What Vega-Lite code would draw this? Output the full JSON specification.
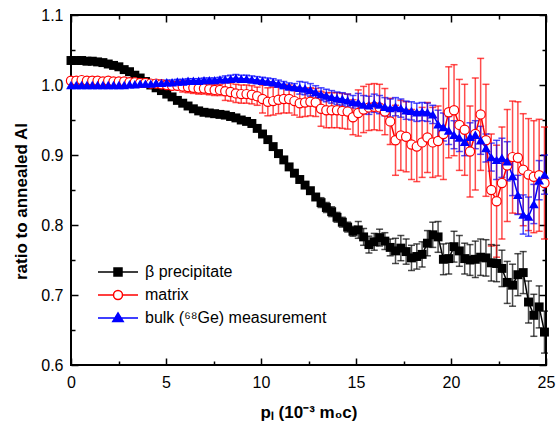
{
"$schema":"https://vega.github.io/schema/vega-lite/v6.json",
"width":475,"height":350,
"autosize":{"type":"none"},
"padding":{"left":71,"top":15,"right":11,"bottom":62},
"config":{"view":{"stroke":"#000","strokeWidth":2},"font":"Liberation Sans",
"legend":{"padding":0,"labelFont":"Liberation Sans","labelFontSize":16,"labelColor":"#000","labelLimit":0,"symbolSize":400,"symbolStrokeWidth":1.5,"labelOffset":16,"rowPadding":4,"symbolOpacity":1}},
"data":{"values":[
{"s":"b","x":0,"y":1.035,"e":0.002},{"s":"b","x":0.28,"y":1.035,"e":0.002},{"s":"b","x":0.56,"y":1.035,"e":0.002},{"s":"b","x":0.84,"y":1.034,"e":0.002},{"s":"b","x":1.12,"y":1.034,"e":0.002},{"s":"b","x":1.4,"y":1.033,"e":0.002},{"s":"b","x":1.68,"y":1.032,"e":0.002},{"s":"b","x":1.96,"y":1.03,"e":0.002},{"s":"b","x":2.24,"y":1.028,"e":0.002},{"s":"b","x":2.52,"y":1.026,"e":0.002},
{"s":"b","x":2.8,"y":1.022,"e":0.002},{"s":"b","x":3.08,"y":1.019,"e":0.002},{"s":"b","x":3.36,"y":1.014,"e":0.002},{"s":"b","x":3.64,"y":1.01,"e":0.002},{"s":"b","x":3.92,"y":1.005,"e":0.002},{"s":"b","x":4.2,"y":1.0,"e":0.002},{"s":"b","x":4.48,"y":0.996,"e":0.002},{"s":"b","x":4.76,"y":0.992,"e":0.002},{"s":"b","x":5.04,"y":0.987,"e":0.002},{"s":"b","x":5.32,"y":0.983,"e":0.002},
{"s":"b","x":5.6,"y":0.978,"e":0.002},{"s":"b","x":5.88,"y":0.974,"e":0.002},{"s":"b","x":6.16,"y":0.97,"e":0.002},{"s":"b","x":6.44,"y":0.966,"e":0.002},{"s":"b","x":6.72,"y":0.963,"e":0.002},{"s":"b","x":7,"y":0.961,"e":0.002},{"s":"b","x":7.28,"y":0.96,"e":0.002},{"s":"b","x":7.56,"y":0.959,"e":0.002},{"s":"b","x":7.84,"y":0.958,"e":0.002},{"s":"b","x":8.12,"y":0.957,"e":0.002},
{"s":"b","x":8.4,"y":0.955,"e":0.002},{"s":"b","x":8.68,"y":0.953,"e":0.002},{"s":"b","x":8.96,"y":0.95,"e":0.002},{"s":"b","x":9.24,"y":0.948,"e":0.002},{"s":"b","x":9.52,"y":0.945,"e":0.002},{"s":"b","x":9.8,"y":0.938,"e":0.002},{"s":"b","x":10.08,"y":0.93,"e":0.004},{"s":"b","x":10.36,"y":0.922,"e":0.004},{"s":"b","x":10.64,"y":0.912,"e":0.004},{"s":"b","x":10.92,"y":0.902,"e":0.004},
{"s":"b","x":11.2,"y":0.893,"e":0.004},{"s":"b","x":11.48,"y":0.883,"e":0.004},{"s":"b","x":11.76,"y":0.874,"e":0.004},{"s":"b","x":12.04,"y":0.865,"e":0.004},{"s":"b","x":12.32,"y":0.857,"e":0.004},{"s":"b","x":12.6,"y":0.849,"e":0.004},{"s":"b","x":12.88,"y":0.84,"e":0.004},{"s":"b","x":13.16,"y":0.832,"e":0.007},{"s":"b","x":13.44,"y":0.825,"e":0.007},{"s":"b","x":13.72,"y":0.819,"e":0.007},
{"s":"b","x":14,"y":0.811,"e":0.007},{"s":"b","x":14.28,"y":0.804,"e":0.007},{"s":"b","x":14.56,"y":0.797,"e":0.007},{"s":"b","x":14.84,"y":0.791,"e":0.007},{"s":"b","x":15.12,"y":0.793,"e":0.012},{"s":"b","x":15.4,"y":0.783,"e":0.012},{"s":"b","x":15.68,"y":0.772,"e":0.012},{"s":"b","x":15.96,"y":0.776,"e":0.012},{"s":"b","x":16.24,"y":0.782,"e":0.012},{"s":"b","x":16.52,"y":0.777,"e":0.012},
{"s":"b","x":16.8,"y":0.768,"e":0.012},{"s":"b","x":17.08,"y":0.763,"e":0.018},{"s":"b","x":17.36,"y":0.767,"e":0.018},{"s":"b","x":17.64,"y":0.762,"e":0.018},{"s":"b","x":17.92,"y":0.753,"e":0.018},{"s":"b","x":18.2,"y":0.755,"e":0.018},{"s":"b","x":18.48,"y":0.758,"e":0.018},{"s":"b","x":18.76,"y":0.774,"e":0.018},{"s":"b","x":19.04,"y":0.786,"e":0.018},{"s":"b","x":19.32,"y":0.783,"e":0.022},
{"s":"b","x":19.6,"y":0.751,"e":0.022},{"s":"b","x":19.88,"y":0.752,"e":0.022},{"s":"b","x":20.16,"y":0.769,"e":0.022},{"s":"b","x":20.44,"y":0.763,"e":0.022},{"s":"b","x":20.72,"y":0.752,"e":0.022},{"s":"b","x":21,"y":0.75,"e":0.022},{"s":"b","x":21.28,"y":0.751,"e":0.026},{"s":"b","x":21.56,"y":0.754,"e":0.026},{"s":"b","x":21.84,"y":0.753,"e":0.026},{"s":"b","x":22.12,"y":0.746,"e":0.026},
{"s":"b","x":22.4,"y":0.745,"e":0.026},{"s":"b","x":22.68,"y":0.738,"e":0.026},{"s":"b","x":22.96,"y":0.718,"e":0.03},{"s":"b","x":23.24,"y":0.714,"e":0.03},{"s":"b","x":23.52,"y":0.729,"e":0.03},{"s":"b","x":23.8,"y":0.732,"e":0.03},{"s":"b","x":24.08,"y":0.69,"e":0.03},{"s":"b","x":24.36,"y":0.671,"e":0.03},{"s":"b","x":24.64,"y":0.683,"e":0.03},{"s":"b","x":24.92,"y":0.647,"e":0.03},

{"s":"m","x":0,"y":1.006,"e":0.003},{"s":"m","x":0.28,"y":1.006,"e":0.003},{"s":"m","x":0.56,"y":1.007,"e":0.003},{"s":"m","x":0.84,"y":1.006,"e":0.003},{"s":"m","x":1.12,"y":1.006,"e":0.003},{"s":"m","x":1.4,"y":1.006,"e":0.003},{"s":"m","x":1.68,"y":1.005,"e":0.003},{"s":"m","x":1.96,"y":1.006,"e":0.003},{"s":"m","x":2.24,"y":1.005,"e":0.003},{"s":"m","x":2.52,"y":1.005,"e":0.003},
{"s":"m","x":2.8,"y":1.005,"e":0.003},{"s":"m","x":3.08,"y":1.004,"e":0.003},{"s":"m","x":3.36,"y":1.004,"e":0.003},{"s":"m","x":3.64,"y":1.003,"e":0.005},{"s":"m","x":3.92,"y":1.003,"e":0.005},{"s":"m","x":4.2,"y":1.002,"e":0.005},{"s":"m","x":4.48,"y":1.002,"e":0.005},{"s":"m","x":4.76,"y":1.001,"e":0.005},{"s":"m","x":5.04,"y":1.0,"e":0.005},{"s":"m","x":5.32,"y":0.999,"e":0.005},
{"s":"m","x":5.6,"y":0.999,"e":0.005},{"s":"m","x":5.88,"y":0.998,"e":0.008},{"s":"m","x":6.16,"y":0.997,"e":0.008},{"s":"m","x":6.44,"y":0.996,"e":0.008},{"s":"m","x":6.72,"y":0.995,"e":0.008},{"s":"m","x":7,"y":0.995,"e":0.008},{"s":"m","x":7.28,"y":0.994,"e":0.008},{"s":"m","x":7.56,"y":0.993,"e":0.008},{"s":"m","x":7.84,"y":0.993,"e":0.008},{"s":"m","x":8.12,"y":0.991,"e":0.013},
{"s":"m","x":8.4,"y":0.99,"e":0.013},{"s":"m","x":8.68,"y":0.988,"e":0.013},{"s":"m","x":8.96,"y":0.987,"e":0.013},{"s":"m","x":9.24,"y":0.987,"e":0.013},{"s":"m","x":9.52,"y":0.986,"e":0.013},{"s":"m","x":9.8,"y":0.984,"e":0.013},{"s":"m","x":10.08,"y":0.98,"e":0.02},{"s":"m","x":10.36,"y":0.976,"e":0.02},{"s":"m","x":10.64,"y":0.977,"e":0.02},{"s":"m","x":10.92,"y":0.979,"e":0.02},
{"s":"m","x":11.2,"y":0.98,"e":0.02},{"s":"m","x":11.48,"y":0.98,"e":0.02},{"s":"m","x":11.76,"y":0.977,"e":0.02},{"s":"m","x":12.04,"y":0.974,"e":0.02},{"s":"m","x":12.32,"y":0.975,"e":0.02},{"s":"m","x":12.6,"y":0.976,"e":0.02},{"s":"m","x":12.88,"y":0.975,"e":0.02},{"s":"m","x":13.16,"y":0.966,"e":0.025},{"s":"m","x":13.44,"y":0.964,"e":0.025},{"s":"m","x":13.72,"y":0.964,"e":0.025},
{"s":"m","x":14,"y":0.964,"e":0.025},{"s":"m","x":14.28,"y":0.963,"e":0.025},{"s":"m","x":14.56,"y":0.962,"e":0.025},{"s":"m","x":14.84,"y":0.954,"e":0.025},{"s":"m","x":15.12,"y":0.96,"e":0.033},{"s":"m","x":15.4,"y":0.965,"e":0.033},{"s":"m","x":15.68,"y":0.968,"e":0.033},{"s":"m","x":15.96,"y":0.969,"e":0.033},{"s":"m","x":16.24,"y":0.968,"e":0.033},{"s":"m","x":16.52,"y":0.962,"e":0.033},
{"s":"m","x":16.8,"y":0.948,"e":0.033},{"s":"m","x":17.08,"y":0.921,"e":0.05},{"s":"m","x":17.36,"y":0.928,"e":0.05},{"s":"m","x":17.64,"y":0.926,"e":0.05},{"s":"m","x":17.92,"y":0.915,"e":0.05},{"s":"m","x":18.2,"y":0.912,"e":0.05},{"s":"m","x":18.48,"y":0.918,"e":0.05},{"s":"m","x":18.76,"y":0.925,"e":0.05},{"s":"m","x":19.04,"y":0.918,"e":0.05},{"s":"m","x":19.32,"y":0.92,"e":0.05},
{"s":"m","x":19.6,"y":0.93,"e":0.065},{"s":"m","x":19.88,"y":0.961,"e":0.065},{"s":"m","x":20.16,"y":0.964,"e":0.065},{"s":"m","x":20.44,"y":0.943,"e":0.065},{"s":"m","x":20.72,"y":0.936,"e":0.065},{"s":"m","x":21,"y":0.905,"e":0.065},{"s":"m","x":21.28,"y":0.93,"e":0.08},{"s":"m","x":21.56,"y":0.958,"e":0.08},{"s":"m","x":21.84,"y":0.921,"e":0.08},{"s":"m","x":22.12,"y":0.85,"e":0.08},
{"s":"m","x":22.4,"y":0.834,"e":0.08},{"s":"m","x":22.68,"y":0.86,"e":0.08},{"s":"m","x":22.96,"y":0.885,"e":0.08},{"s":"m","x":23.24,"y":0.897,"e":0.08},{"s":"m","x":23.52,"y":0.896,"e":0.08},{"s":"m","x":23.8,"y":0.879,"e":0.08},{"s":"m","x":24.08,"y":0.872,"e":0.08},{"s":"m","x":24.36,"y":0.869,"e":0.08},{"s":"m","x":24.64,"y":0.871,"e":0.08},{"s":"m","x":24.92,"y":0.86,"e":0.08},

{"s":"g","x":0,"y":1.0,"e":0.003},{"s":"g","x":0.28,"y":1.0,"e":0.003},{"s":"g","x":0.56,"y":1.0,"e":0.003},{"s":"g","x":0.84,"y":1.0,"e":0.003},{"s":"g","x":1.12,"y":1.0,"e":0.003},{"s":"g","x":1.4,"y":1.0,"e":0.003},{"s":"g","x":1.68,"y":1.0,"e":0.003},{"s":"g","x":1.96,"y":1.0,"e":0.003},{"s":"g","x":2.24,"y":1.0,"e":0.003},{"s":"g","x":2.52,"y":1.0,"e":0.003},
{"s":"g","x":2.8,"y":1.0,"e":0.003},{"s":"g","x":3.08,"y":1.001,"e":0.003},{"s":"g","x":3.36,"y":1.001,"e":0.003},{"s":"g","x":3.64,"y":1.002,"e":0.003},{"s":"g","x":3.92,"y":1.002,"e":0.003},{"s":"g","x":4.2,"y":1.002,"e":0.003},{"s":"g","x":4.48,"y":1.003,"e":0.003},{"s":"g","x":4.76,"y":1.003,"e":0.003},{"s":"g","x":5.04,"y":1.004,"e":0.003},{"s":"g","x":5.32,"y":1.004,"e":0.003},
{"s":"g","x":5.6,"y":1.005,"e":0.003},{"s":"g","x":5.88,"y":1.005,"e":0.003},{"s":"g","x":6.16,"y":1.006,"e":0.003},{"s":"g","x":6.44,"y":1.006,"e":0.003},{"s":"g","x":6.72,"y":1.006,"e":0.003},{"s":"g","x":7,"y":1.007,"e":0.003},{"s":"g","x":7.28,"y":1.007,"e":0.003},{"s":"g","x":7.56,"y":1.007,"e":0.003},{"s":"g","x":7.84,"y":1.008,"e":0.003},{"s":"g","x":8.12,"y":1.008,"e":0.005},
{"s":"g","x":8.4,"y":1.009,"e":0.005},{"s":"g","x":8.68,"y":1.01,"e":0.005},{"s":"g","x":8.96,"y":1.009,"e":0.005},{"s":"g","x":9.24,"y":1.009,"e":0.005},{"s":"g","x":9.52,"y":1.008,"e":0.005},{"s":"g","x":9.8,"y":1.007,"e":0.005},{"s":"g","x":10.08,"y":1.006,"e":0.005},{"s":"g","x":10.36,"y":1.005,"e":0.005},{"s":"g","x":10.64,"y":1.004,"e":0.005},{"s":"g","x":10.92,"y":1.002,"e":0.005},
{"s":"g","x":11.2,"y":1.0,"e":0.005},{"s":"g","x":11.48,"y":0.998,"e":0.005},{"s":"g","x":11.76,"y":0.997,"e":0.005},{"s":"g","x":12.04,"y":0.996,"e":0.009},{"s":"g","x":12.32,"y":0.995,"e":0.009},{"s":"g","x":12.6,"y":0.993,"e":0.009},{"s":"g","x":12.88,"y":0.99,"e":0.009},{"s":"g","x":13.16,"y":0.987,"e":0.009},{"s":"g","x":13.44,"y":0.985,"e":0.009},{"s":"g","x":13.72,"y":0.983,"e":0.009},
{"s":"g","x":14,"y":0.981,"e":0.009},{"s":"g","x":14.28,"y":0.98,"e":0.009},{"s":"g","x":14.56,"y":0.978,"e":0.009},{"s":"g","x":14.84,"y":0.976,"e":0.009},{"s":"g","x":15.12,"y":0.975,"e":0.013},{"s":"g","x":15.4,"y":0.972,"e":0.013},{"s":"g","x":15.68,"y":0.971,"e":0.013},{"s":"g","x":15.96,"y":0.974,"e":0.013},{"s":"g","x":16.24,"y":0.972,"e":0.013},{"s":"g","x":16.52,"y":0.969,"e":0.013},
{"s":"g","x":16.8,"y":0.967,"e":0.013},{"s":"g","x":17.08,"y":0.969,"e":0.013},{"s":"g","x":17.36,"y":0.967,"e":0.013},{"s":"g","x":17.64,"y":0.964,"e":0.013},{"s":"g","x":17.92,"y":0.963,"e":0.013},{"s":"g","x":18.2,"y":0.961,"e":0.013},{"s":"g","x":18.48,"y":0.962,"e":0.013},{"s":"g","x":18.76,"y":0.961,"e":0.013},{"s":"g","x":19.04,"y":0.958,"e":0.013},{"s":"g","x":19.32,"y":0.944,"e":0.02},
{"s":"g","x":19.6,"y":0.94,"e":0.02},{"s":"g","x":19.88,"y":0.935,"e":0.02},{"s":"g","x":20.16,"y":0.929,"e":0.02},{"s":"g","x":20.44,"y":0.925,"e":0.02},{"s":"g","x":20.72,"y":0.919,"e":0.02},{"s":"g","x":21,"y":0.926,"e":0.02},{"s":"g","x":21.28,"y":0.929,"e":0.02},{"s":"g","x":21.56,"y":0.921,"e":0.02},{"s":"g","x":21.84,"y":0.91,"e":0.02},{"s":"g","x":22.12,"y":0.897,"e":0.02},
{"s":"g","x":22.4,"y":0.893,"e":0.028},{"s":"g","x":22.68,"y":0.896,"e":0.028},{"s":"g","x":22.96,"y":0.891,"e":0.028},{"s":"g","x":23.24,"y":0.87,"e":0.028},{"s":"g","x":23.52,"y":0.843,"e":0.028},{"s":"g","x":23.8,"y":0.815,"e":0.028},{"s":"g","x":24.08,"y":0.812,"e":0.028},{"s":"g","x":24.36,"y":0.83,"e":0.028},{"s":"g","x":24.64,"y":0.864,"e":0.028},{"s":"g","x":24.92,"y":0.872,"e":0.028}
]},
"layer":[
{"mark":{"type":"errorbar","ticks":true,"size":7,"thickness":1.5,"opacity":0.7},
 "encoding":{
  "x":{"field":"x","type":"quantitative","scale":{"domain":[0,25],"nice":false,"zero":false},
   "axis":{"orient":"bottom","values":[0,2.5,5,7.5,10,12.5,15,17.5,20,22.5,25],"domain":false,"grid":false,"tickSize":-7,"tickWidth":1.5,"tickColor":"#000",
    "tickDash":{"condition":{"test":"datum.value % 5 !== 0","value":[4,20]},"value":[]},
    "labelExpr":"datum.value % 5 === 0 ? datum.label : ''","labelFontSize":16,"labelColor":"#000","labelPadding":16,"labelFlush":false,
    "title":"p\u2097 (10\u207b\u00b3 m\u2080c)","titleFontSize":17,"titleFontWeight":"bold","titleColor":"#000","titlePadding":14}},
  "y":{"field":"y","type":"quantitative","scale":{"domain":[0.6,1.1],"nice":false,"zero":false},
   "axis":{"orient":"left","values":[0.6,0.65,0.7,0.75,0.8,0.85,0.9,0.95,1.0,1.05,1.1],"format":".1f","domain":false,"grid":false,"tickSize":-7,"tickWidth":1.5,"tickColor":"#000",
    "tickDash":{"condition":{"test":"round(datum.value*100) % 10 !== 0","value":[4,20]},"value":[]},
    "labelExpr":"round(datum.value*100) % 10 === 0 ? datum.label : ''","labelFontSize":16,"labelColor":"#000","labelPadding":15,"labelFlush":false,
    "title":"ratio to annealed Al","titleFontSize":17,"titleFontWeight":"bold","titleColor":"#000","titlePadding":10,"titleY":186}},
  "yError":{"field":"e"},
  "color":{"field":"s","type":"nominal","scale":{"domain":["m","b","g"],"range":["#ff0000","#000000","#0000ff"]},"legend":null}}},
{"mark":{"type":"line","strokeWidth":1.5},
 "encoding":{
  "x":{"field":"x","type":"quantitative",
   "axis":{"orient":"top","values":[0,2.5,5,7.5,10,12.5,15,17.5,20,22.5,25],"domain":false,"grid":false,"labels":false,"title":null,"tickSize":-7,"tickWidth":1.5,"tickColor":"#000",
    "tickDash":{"condition":{"test":"datum.value % 5 !== 0","value":[4,20]},"value":[]}}},
  "y":{"field":"y","type":"quantitative",
   "axis":{"orient":"right","values":[0.6,0.65,0.7,0.75,0.8,0.85,0.9,0.95,1.0,1.05,1.1],"domain":false,"grid":false,"labels":false,"title":null,"tickSize":-7,"tickWidth":1.5,"tickColor":"#000",
    "tickDash":{"condition":{"test":"round(datum.value*100) % 10 !== 0","value":[4,20]},"value":[]}}},
  "color":{"field":"s","type":"nominal","legend":null}}},
{"transform":[{"filter":"datum.s === 'b'"}],
 "mark":{"type":"point","shape":"square","filled":true,"color":"#000000","size":80,"opacity":1},
 "encoding":{"x":{"field":"x","type":"quantitative","axis":null},"y":{"field":"y","type":"quantitative","axis":null}}},
{"transform":[{"filter":"datum.s === 'm'"}],
 "mark":{"type":"point","shape":"circle","filled":true,"fill":"#ffffff","stroke":"#ff0000","strokeWidth":1.2,"size":85,"opacity":1},
 "encoding":{"x":{"field":"x","type":"quantitative","axis":null},"y":{"field":"y","type":"quantitative","axis":null}}},
{"transform":[{"filter":"datum.s === 'g'"}],
 "mark":{"type":"point","shape":"triangle-up","filled":true,"color":"#0000ff","size":95,"opacity":1},
 "encoding":{"x":{"field":"x","type":"quantitative","axis":null},"y":{"field":"y","type":"quantitative","axis":null}}},
{"transform":[{"filter":"datum.x < 0"}],
 "mark":{"type":"point","filled":true,"strokeWidth":1.5,"opacity":1},
 "encoding":{"x":{"field":"x","type":"quantitative","axis":null},"y":{"field":"y","type":"quantitative","axis":null},
  "shape":{"field":"s","type":"nominal","scale":{"domain":["b","m","g"],"range":["M-2,0L2,0M-0.4,-0.4L0.4,-0.4L0.4,0.4L-0.4,0.4Z","M-2,0L-0.45,0M0.45,0L2,0M-0.45,0A0.45,0.45,0,1,1,0.45,0A0.45,0.45,0,1,1,-0.45,0Z","M-2,0L2,0M0,-0.5L0.52,0.36L-0.52,0.36Z"]},
   "legend":{"title":null,"orient":"none","legendX":36,"legendY":246,"labelExpr":"datum.label === 'b' ? 'β precipitate' : datum.label === 'm' ? 'matrix' : 'bulk (\u2076\u2078Ge) measurement'"}},
  "fill":{"field":"s","type":"nominal","scale":{"domain":["b","m","g"],"range":["#000000","#ffffff","#0000ff"]},
   "legend":{"title":null,"orient":"none","legendX":36,"legendY":246,"labelExpr":"datum.label === 'b' ? 'β precipitate' : datum.label === 'm' ? 'matrix' : 'bulk (\u2076\u2078Ge) measurement'"}},
  "stroke":{"field":"s","type":"nominal","scale":{"domain":["b","m","g"],"range":["#000000","#ff0000","#0000ff"]},
   "legend":{"title":null,"orient":"none","legendX":36,"legendY":246,"labelExpr":"datum.label === 'b' ? 'β precipitate' : datum.label === 'm' ? 'matrix' : 'bulk (\u2076\u2078Ge) measurement'"}}}}
],
"resolve":{"axis":{"x":"independent","y":"independent"}}
}
